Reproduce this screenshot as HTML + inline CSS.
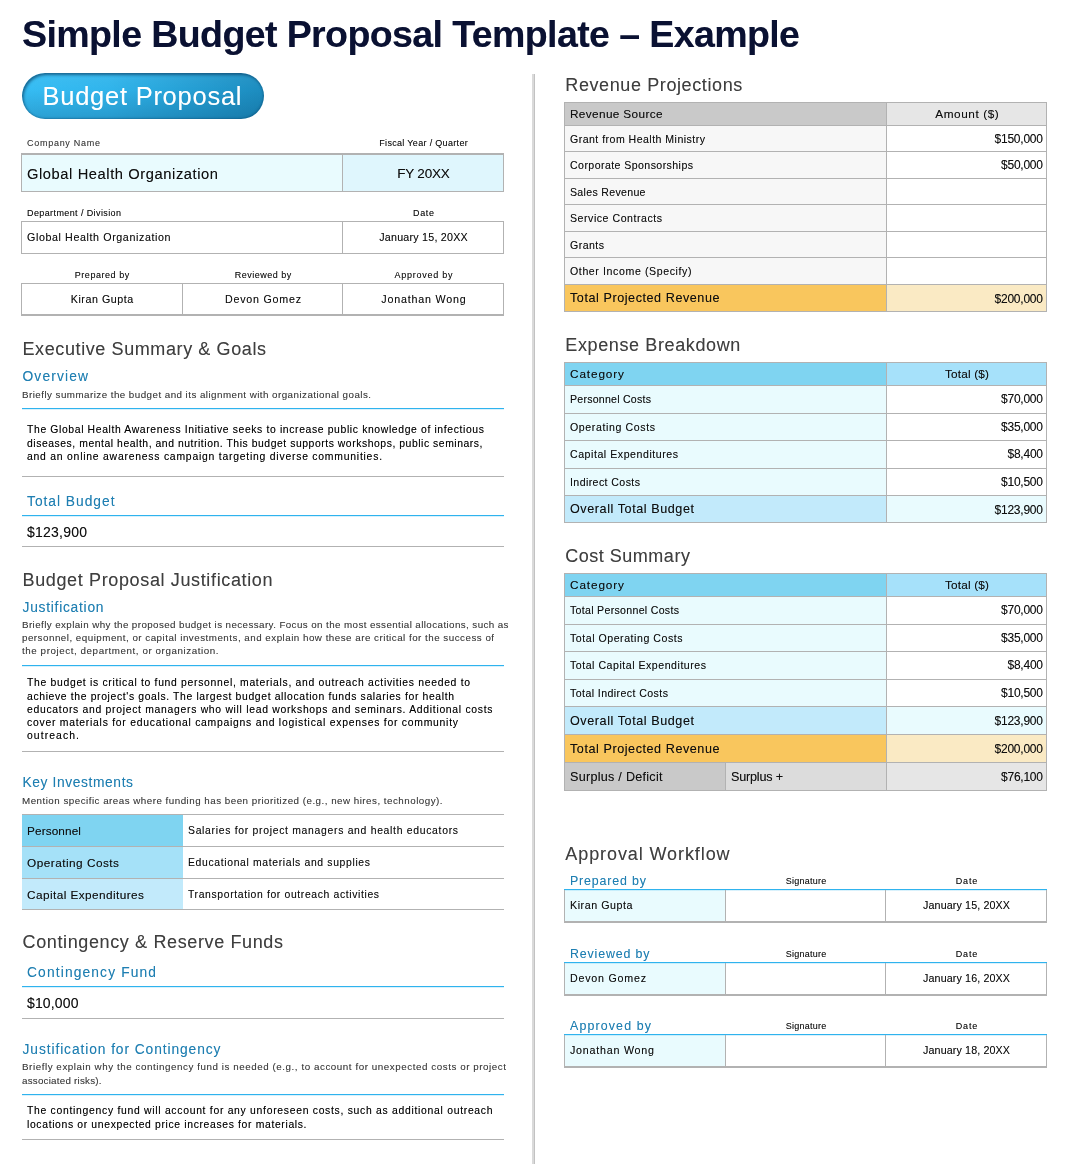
<!DOCTYPE html>
<html lang="en">
<head>
<meta charset="utf-8">
<title>Simple Budget Proposal Template – Example</title>
<style>
html,body{margin:0;padding:0;background:#fff;}
html,body{width:1068px;height:1164px;overflow:hidden;}
.page{width:1068px;height:1164px;position:relative;overflow:hidden;font-family:"Liberation Sans",sans-serif;}
.r{position:absolute;}
h1,h2,h3,p{margin:0;font-weight:normal;}
.t{position:absolute;white-space:nowrap;height:24px;line-height:24px;text-shadow:0 0 .5px color-mix(in srgb,currentColor 40%,transparent);}
</style>
</head>
<body>
<main class="page">
<h1 class="t" style="top:22.0px;font-size:37.6px;color:#0a1132;font-weight:bold;letter-spacing:-0.632px;left:22px;">Simple Budget Proposal Template – Example</h1>
<div class="r" style="left:532px;top:74px;width:2px;height:1090px;background:#dadada;"></div>
<div class="r" style="left:534px;top:74px;width:1px;height:1090px;background:#c2c2c2;"></div>
<div class="r" style="left:22px;top:73px;width:242px;height:46px;background:linear-gradient(to bottom,rgba(255,255,255,.05) 0%,rgba(0,0,0,0) 35%,rgba(0,45,80,.2) 100%),linear-gradient(to right,#36bdf4 0%,#31b5ec 35%,#259fd4 70%,#1c8cbf 100%);border-radius:23px;box-shadow:inset 1.5px 2px 3px rgba(8,66,104,.7),inset -1px -1px 2px rgba(8,66,104,.35);"></div>
<div class="t" style="top:84.0px;font-size:25.5px;color:#ffffff;letter-spacing:0.746px;left:42.5px;">Budget Proposal</div>
<div class="t" style="top:131.0px;font-size:9px;color:#3c3c3c;letter-spacing:0.724px;left:27px;">Company Name</div>
<div class="t" style="top:131.0px;font-size:9px;color:#0f0f0f;letter-spacing:0.323px;left:223.66px;width:400px;text-align:center;">Fiscal Year / Quarter</div>
<div class="r" style="left:21px;top:153px;width:321px;height:39px;background:#e9fbfe;"></div>
<div class="r" style="left:342px;top:153px;width:162px;height:39px;background:#dff6fd;"></div>
<div class="r" style="left:21px;top:153px;width:483px;height:2px;background:#b2b2b2;"></div>
<div class="r" style="left:21px;top:191px;width:483px;height:1px;background:#b2b2b2;"></div>
<div class="r" style="left:21px;top:153px;width:1px;height:39px;background:#b2b2b2;"></div>
<div class="r" style="left:503px;top:153px;width:1px;height:39px;background:#b2b2b2;"></div>
<div class="r" style="left:342px;top:153px;width:1px;height:39px;background:#b2b2b2;"></div>
<div class="t" style="top:162.0px;font-size:14.7px;color:#0f0f0f;letter-spacing:0.586px;left:27px;">Global Health Organization</div>
<div class="t" style="top:162.0px;font-size:13.5px;color:#0f0f0f;letter-spacing:-0.216px;left:223.39px;width:400px;text-align:center;">FY 20XX</div>
<div class="t" style="top:201.0px;font-size:9px;color:#0f0f0f;letter-spacing:0.398px;left:27px;">Department / Division</div>
<div class="t" style="top:201.0px;font-size:9px;color:#0f0f0f;letter-spacing:0.661px;left:223.83px;width:400px;text-align:center;">Date</div>
<div class="r" style="left:21px;top:221px;width:483px;height:1px;background:#b2b2b2;"></div>
<div class="r" style="left:21px;top:253px;width:483px;height:1px;background:#b2b2b2;"></div>
<div class="r" style="left:21px;top:221px;width:1px;height:33px;background:#b2b2b2;"></div>
<div class="r" style="left:503px;top:221px;width:1px;height:33px;background:#b2b2b2;"></div>
<div class="r" style="left:342px;top:221px;width:1px;height:33px;background:#b2b2b2;"></div>
<div class="t" style="top:225.0px;font-size:10.7px;color:#0f0f0f;letter-spacing:0.607px;left:27px;">Global Health Organization</div>
<div class="t" style="top:225.0px;font-size:10.7px;color:#0f0f0f;letter-spacing:0.235px;left:223.62px;width:400px;text-align:center;">January 15, 20XX</div>
<div class="t" style="top:263.0px;font-size:9px;color:#0f0f0f;letter-spacing:0.547px;left:-97.73px;width:400px;text-align:center;">Prepared by</div>
<div class="t" style="top:263.0px;font-size:9px;color:#0f0f0f;letter-spacing:0.497px;left:63.25px;width:400px;text-align:center;">Reviewed by</div>
<div class="t" style="top:263.0px;font-size:9px;color:#0f0f0f;letter-spacing:0.745px;left:223.87px;width:400px;text-align:center;">Approved by</div>
<div class="r" style="left:21px;top:283px;width:483px;height:1px;background:#b2b2b2;"></div>
<div class="r" style="left:21px;top:314px;width:483px;height:2px;background:#b2b2b2;"></div>
<div class="r" style="left:21px;top:283px;width:1px;height:33px;background:#b2b2b2;"></div>
<div class="r" style="left:503px;top:283px;width:1px;height:33px;background:#b2b2b2;"></div>
<div class="r" style="left:182px;top:283px;width:1px;height:32px;background:#b2b2b2;"></div>
<div class="r" style="left:342px;top:283px;width:1px;height:32px;background:#b2b2b2;"></div>
<div class="t" style="top:287.0px;font-size:10.7px;color:#0f0f0f;letter-spacing:0.545px;left:-97.73px;width:400px;text-align:center;">Kiran Gupta</div>
<div class="t" style="top:287.0px;font-size:10.7px;color:#0f0f0f;letter-spacing:0.769px;left:63.38px;width:400px;text-align:center;">Devon Gomez</div>
<div class="t" style="top:287.0px;font-size:10.7px;color:#0f0f0f;letter-spacing:0.819px;left:223.91px;width:400px;text-align:center;">Jonathan Wong</div>
<h2 class="t" style="top:337.0px;font-size:18px;color:#3f3f3f;letter-spacing:0.601px;left:22.5px;">Executive Summary &amp; Goals</h2>
<h3 class="t" style="top:365.0px;font-size:13.8px;color:#1f7fb2;letter-spacing:1.143px;left:22.5px;">Overview</h3>
<p class="t" style="top:383.0px;font-size:9.8px;color:#3c3c3c;letter-spacing:0.453px;left:22px;">Briefly summarize the budget and its alignment with organizational goals.</p>
<div class="r" style="left:22px;top:408px;width:482px;height:2px;background:linear-gradient(#2fb3ee 50%,rgba(47,179,238,.18) 50%);"></div>
<p class="t" style="top:418.0px;font-size:10.4px;color:#000;letter-spacing:0.628px;left:27px;">The Global Health Awareness Initiative seeks to increase public knowledge of infectious</p>
<p class="t" style="top:432.0px;font-size:10.4px;color:#000;letter-spacing:0.544px;left:27px;">diseases, mental health, and nutrition. This budget supports workshops, public seminars,</p>
<p class="t" style="top:445.0px;font-size:10.4px;color:#000;letter-spacing:0.770px;left:27px;">and an online awareness campaign targeting diverse communities.</p>
<div class="r" style="left:22px;top:476px;width:482px;height:1px;background:#b2b2b2;"></div>
<h3 class="t" style="top:490.0px;font-size:13.8px;color:#1f7fb2;letter-spacing:0.980px;left:27px;">Total Budget</h3>
<div class="r" style="left:22px;top:515px;width:482px;height:2px;background:linear-gradient(#2fb3ee 50%,rgba(47,179,238,.18) 50%);"></div>
<div class="t" style="top:520.0px;font-size:14px;color:#0f0f0f;letter-spacing:0.228px;left:27px;">$123,900</div>
<div class="r" style="left:22px;top:546px;width:482px;height:1px;background:#b2b2b2;"></div>
<h2 class="t" style="top:568.0px;font-size:18px;color:#3f3f3f;letter-spacing:0.638px;left:22.5px;">Budget Proposal Justification</h2>
<h3 class="t" style="top:596.0px;font-size:13.8px;color:#1f7fb2;letter-spacing:0.742px;left:22.5px;">Justification</h3>
<p class="t" style="top:613.0px;font-size:9.8px;color:#3c3c3c;letter-spacing:0.403px;left:22px;">Briefly explain why the proposed budget is necessary. Focus on the most essential allocations, such as</p>
<p class="t" style="top:626.0px;font-size:9.8px;color:#3c3c3c;letter-spacing:0.488px;left:22px;">personnel, equipment, or capital investments, and explain how these are critical for the success of</p>
<p class="t" style="top:639.0px;font-size:9.8px;color:#3c3c3c;letter-spacing:0.569px;left:22px;">the project, department, or organization.</p>
<div class="r" style="left:22px;top:665px;width:482px;height:2px;background:linear-gradient(#2fb3ee 50%,rgba(47,179,238,.18) 50%);"></div>
<p class="t" style="top:671.0px;font-size:10.4px;color:#000;letter-spacing:0.686px;left:27px;">The budget is critical to fund personnel, materials, and outreach activities needed to</p>
<p class="t" style="top:685.0px;font-size:10.4px;color:#000;letter-spacing:0.634px;left:27px;">achieve the project&#x27;s goals. The largest budget allocation funds salaries for health</p>
<p class="t" style="top:698.0px;font-size:10.4px;color:#000;letter-spacing:0.701px;left:27px;">educators and project managers who will lead workshops and seminars. Additional costs</p>
<p class="t" style="top:711.0px;font-size:10.4px;color:#000;letter-spacing:0.742px;left:27px;">cover materials for educational campaigns and logistical expenses for community</p>
<p class="t" style="top:724.0px;font-size:10.4px;color:#000;letter-spacing:1.084px;left:27px;">outreach.</p>
<div class="r" style="left:22px;top:751px;width:482px;height:1px;background:#b2b2b2;"></div>
<h3 class="t" style="top:771.0px;font-size:13.8px;color:#1f7fb2;letter-spacing:0.607px;left:22.5px;">Key Investments</h3>
<p class="t" style="top:789.0px;font-size:9.8px;color:#3c3c3c;letter-spacing:0.483px;left:22px;">Mention specific areas where funding has been prioritized (e.g., new hires, technology).</p>
<div class="r" style="left:22px;top:815px;width:161px;height:31px;background:#7fd4f1;"></div>
<div class="r" style="left:22px;top:847px;width:161px;height:31px;background:#a5e1f8;"></div>
<div class="r" style="left:22px;top:879px;width:161px;height:30px;background:#c2eafb;"></div>
<div class="r" style="left:22px;top:814px;width:482px;height:1px;background:#b2b2b2;"></div>
<div class="r" style="left:22px;top:846px;width:482px;height:1px;background:#b2b2b2;"></div>
<div class="r" style="left:22px;top:878px;width:482px;height:1px;background:#b2b2b2;"></div>
<div class="r" style="left:22px;top:909px;width:482px;height:1px;background:#b2b2b2;"></div>
<div class="t" style="top:819.0px;font-size:11.8px;color:#0f0f0f;letter-spacing:0.109px;left:27px;">Personnel</div>
<div class="t" style="top:851.0px;font-size:11.8px;color:#0f0f0f;letter-spacing:0.482px;left:27px;">Operating Costs</div>
<div class="t" style="top:883.0px;font-size:11.8px;color:#0f0f0f;letter-spacing:0.428px;left:27px;">Capital Expenditures</div>
<div class="t" style="top:819.0px;font-size:10.4px;color:#0f0f0f;letter-spacing:0.701px;left:188px;">Salaries for project managers and health educators</div>
<div class="t" style="top:851.0px;font-size:10.4px;color:#0f0f0f;letter-spacing:0.649px;left:188px;">Educational materials and supplies</div>
<div class="t" style="top:883.0px;font-size:10.4px;color:#0f0f0f;letter-spacing:0.630px;left:188px;">Transportation for outreach activities</div>
<h2 class="t" style="top:930.0px;font-size:18px;color:#3f3f3f;letter-spacing:0.630px;left:22.5px;">Contingency &amp; Reserve Funds</h2>
<h3 class="t" style="top:961.0px;font-size:13.8px;color:#1f7fb2;letter-spacing:1.134px;left:27px;">Contingency Fund</h3>
<div class="r" style="left:22px;top:986px;width:482px;height:2px;background:linear-gradient(#2fb3ee 50%,rgba(47,179,238,.18) 50%);"></div>
<div class="t" style="top:991.0px;font-size:14px;color:#0f0f0f;letter-spacing:0.148px;left:27px;">$10,000</div>
<div class="r" style="left:22px;top:1018px;width:482px;height:1px;background:#b2b2b2;"></div>
<h3 class="t" style="top:1038.0px;font-size:13.8px;color:#1f7fb2;letter-spacing:0.908px;left:22.5px;">Justification for Contingency</h3>
<p class="t" style="top:1055.0px;font-size:9.8px;color:#3c3c3c;letter-spacing:0.554px;left:22px;">Briefly explain why the contingency fund is needed (e.g., to account for unexpected costs or project</p>
<p class="t" style="top:1069.0px;font-size:9.8px;color:#3c3c3c;letter-spacing:0.224px;left:22px;">associated risks).</p>
<div class="r" style="left:22px;top:1094px;width:482px;height:2px;background:linear-gradient(#2fb3ee 50%,rgba(47,179,238,.18) 50%);"></div>
<p class="t" style="top:1099.0px;font-size:10.4px;color:#000;letter-spacing:0.705px;left:27px;">The contingency fund will account for any unforeseen costs, such as additional outreach</p>
<p class="t" style="top:1113.0px;font-size:10.4px;color:#000;letter-spacing:0.642px;left:27px;">locations or unexpected price increases for materials.</p>
<div class="r" style="left:22px;top:1139px;width:482px;height:1px;background:#b2b2b2;"></div>
<h2 class="t" style="top:73.0px;font-size:18px;color:#3f3f3f;letter-spacing:0.605px;left:565.3px;">Revenue Projections</h2>
<div class="r" style="left:564px;top:102px;width:322px;height:23px;background:#c9c9c9;"></div>
<div class="r" style="left:886px;top:102px;width:161px;height:23px;background:#e6e6e6;"></div>
<div class="r" style="left:564px;top:125px;width:322px;height:26px;background:#f7f7f7;"></div>
<div class="r" style="left:886px;top:125px;width:161px;height:26px;background:#ffffff;"></div>
<div class="r" style="left:564px;top:151px;width:322px;height:27px;background:#f7f7f7;"></div>
<div class="r" style="left:886px;top:151px;width:161px;height:27px;background:#ffffff;"></div>
<div class="r" style="left:564px;top:178px;width:322px;height:26px;background:#f7f7f7;"></div>
<div class="r" style="left:886px;top:178px;width:161px;height:26px;background:#ffffff;"></div>
<div class="r" style="left:564px;top:204px;width:322px;height:27px;background:#f7f7f7;"></div>
<div class="r" style="left:886px;top:204px;width:161px;height:27px;background:#ffffff;"></div>
<div class="r" style="left:564px;top:231px;width:322px;height:26px;background:#f7f7f7;"></div>
<div class="r" style="left:886px;top:231px;width:161px;height:26px;background:#ffffff;"></div>
<div class="r" style="left:564px;top:257px;width:322px;height:27px;background:#f7f7f7;"></div>
<div class="r" style="left:886px;top:257px;width:161px;height:27px;background:#ffffff;"></div>
<div class="r" style="left:564px;top:284px;width:322px;height:27px;background:#f9c65d;"></div>
<div class="r" style="left:886px;top:284px;width:161px;height:27px;background:#faeac4;"></div>
<div class="r" style="left:564px;top:102px;width:483px;height:1px;background:#b2b2b2;"></div>
<div class="r" style="left:564px;top:125px;width:483px;height:1px;background:#b2b2b2;"></div>
<div class="r" style="left:564px;top:151px;width:483px;height:1px;background:#b2b2b2;"></div>
<div class="r" style="left:564px;top:178px;width:483px;height:1px;background:#b2b2b2;"></div>
<div class="r" style="left:564px;top:204px;width:483px;height:1px;background:#b2b2b2;"></div>
<div class="r" style="left:564px;top:231px;width:483px;height:1px;background:#b2b2b2;"></div>
<div class="r" style="left:564px;top:257px;width:483px;height:1px;background:#b2b2b2;"></div>
<div class="r" style="left:564px;top:284px;width:483px;height:1px;background:#b2b2b2;"></div>
<div class="r" style="left:564px;top:311px;width:483px;height:1px;background:#b2b2b2;"></div>
<div class="r" style="left:564px;top:102px;width:1px;height:210px;background:#b2b2b2;"></div>
<div class="r" style="left:886px;top:102px;width:1px;height:210px;background:#b2b2b2;"></div>
<div class="r" style="left:1046px;top:102px;width:1px;height:210px;background:#b2b2b2;"></div>
<div class="t" style="top:102.0px;font-size:11.8px;color:#0f0f0f;letter-spacing:0.355px;left:570px;">Revenue Source</div>
<div class="t" style="top:102.0px;font-size:11.8px;color:#0f0f0f;letter-spacing:0.571px;left:767.29px;width:400px;text-align:center;">Amount ($)</div>
<div class="t" style="top:127.0px;font-size:10.6px;color:#0f0f0f;letter-spacing:0.455px;left:570px;">Grant from Health Ministry</div>
<div class="t" style="top:127.0px;font-size:12px;color:#0f0f0f;letter-spacing:-0.223px;left:642.78px;width:400px;text-align:right;">$150,000</div>
<div class="t" style="top:153.0px;font-size:10.6px;color:#0f0f0f;letter-spacing:0.417px;left:570px;">Corporate Sponsorships</div>
<div class="t" style="top:153.0px;font-size:12px;color:#0f0f0f;letter-spacing:-0.232px;left:642.77px;width:400px;text-align:right;">$50,000</div>
<div class="t" style="top:180.0px;font-size:10.6px;color:#0f0f0f;letter-spacing:0.303px;left:570px;">Sales Revenue</div>
<div class="t" style="top:206.0px;font-size:10.6px;color:#0f0f0f;letter-spacing:0.524px;left:570px;">Service Contracts</div>
<div class="t" style="top:233.0px;font-size:10.6px;color:#0f0f0f;letter-spacing:0.441px;left:570px;">Grants</div>
<div class="t" style="top:259.0px;font-size:10.6px;color:#0f0f0f;letter-spacing:0.599px;left:570px;">Other Income (Specify)</div>
<div class="t" style="top:286.0px;font-size:12.6px;color:#0f0f0f;letter-spacing:0.558px;left:570px;">Total Projected Revenue</div>
<div class="t" style="top:287.0px;font-size:12px;color:#0f0f0f;letter-spacing:-0.223px;left:642.78px;width:400px;text-align:right;">$200,000</div>
<h2 class="t" style="top:333.0px;font-size:18px;color:#3f3f3f;letter-spacing:0.618px;left:565.3px;">Expense Breakdown</h2>
<div class="r" style="left:564px;top:362px;width:322px;height:23px;background:#7fd4f1;"></div>
<div class="r" style="left:886px;top:362px;width:161px;height:23px;background:#a6e1fa;"></div>
<div class="r" style="left:564px;top:385px;width:322px;height:28px;background:#e9fbfe;"></div>
<div class="r" style="left:886px;top:385px;width:161px;height:28px;background:#ffffff;"></div>
<div class="r" style="left:564px;top:413px;width:322px;height:27px;background:#e9fbfe;"></div>
<div class="r" style="left:886px;top:413px;width:161px;height:27px;background:#ffffff;"></div>
<div class="r" style="left:564px;top:440px;width:322px;height:28px;background:#e9fbfe;"></div>
<div class="r" style="left:886px;top:440px;width:161px;height:28px;background:#ffffff;"></div>
<div class="r" style="left:564px;top:468px;width:322px;height:27px;background:#e9fbfe;"></div>
<div class="r" style="left:886px;top:468px;width:161px;height:27px;background:#ffffff;"></div>
<div class="r" style="left:564px;top:495px;width:322px;height:27px;background:#c2eafb;"></div>
<div class="r" style="left:886px;top:495px;width:161px;height:27px;background:#e9fbfe;"></div>
<div class="r" style="left:564px;top:362px;width:483px;height:1px;background:#b2b2b2;"></div>
<div class="r" style="left:564px;top:385px;width:483px;height:1px;background:#b2b2b2;"></div>
<div class="r" style="left:564px;top:413px;width:483px;height:1px;background:#b2b2b2;"></div>
<div class="r" style="left:564px;top:440px;width:483px;height:1px;background:#b2b2b2;"></div>
<div class="r" style="left:564px;top:468px;width:483px;height:1px;background:#b2b2b2;"></div>
<div class="r" style="left:564px;top:495px;width:483px;height:1px;background:#b2b2b2;"></div>
<div class="r" style="left:564px;top:522px;width:483px;height:1px;background:#b2b2b2;"></div>
<div class="r" style="left:564px;top:362px;width:1px;height:161px;background:#b2b2b2;"></div>
<div class="r" style="left:886px;top:362px;width:1px;height:161px;background:#b2b2b2;"></div>
<div class="r" style="left:1046px;top:362px;width:1px;height:161px;background:#b2b2b2;"></div>
<div class="t" style="top:362.0px;font-size:11.8px;color:#0f0f0f;letter-spacing:0.875px;left:570px;">Category</div>
<div class="t" style="top:362.0px;font-size:11.8px;color:#0f0f0f;letter-spacing:0.172px;left:767.09px;width:400px;text-align:center;">Total ($)</div>
<div class="t" style="top:387.0px;font-size:10.6px;color:#0f0f0f;letter-spacing:0.233px;left:570px;">Personnel Costs</div>
<div class="t" style="top:387.0px;font-size:12px;color:#0f0f0f;letter-spacing:-0.232px;left:642.77px;width:400px;text-align:right;">$70,000</div>
<div class="t" style="top:415.0px;font-size:10.6px;color:#0f0f0f;letter-spacing:0.604px;left:570px;">Operating Costs</div>
<div class="t" style="top:415.0px;font-size:12px;color:#0f0f0f;letter-spacing:-0.232px;left:642.77px;width:400px;text-align:right;">$35,000</div>
<div class="t" style="top:442.0px;font-size:10.6px;color:#0f0f0f;letter-spacing:0.539px;left:570px;">Capital Expenditures</div>
<div class="t" style="top:442.0px;font-size:12px;color:#0f0f0f;letter-spacing:-0.241px;left:642.76px;width:400px;text-align:right;">$8,400</div>
<div class="t" style="top:470.0px;font-size:10.6px;color:#0f0f0f;letter-spacing:0.403px;left:570px;">Indirect Costs</div>
<div class="t" style="top:470.0px;font-size:12px;color:#0f0f0f;letter-spacing:-0.232px;left:642.77px;width:400px;text-align:right;">$10,500</div>
<div class="t" style="top:497.0px;font-size:12.6px;color:#0f0f0f;letter-spacing:0.569px;left:570px;">Overall Total Budget</div>
<div class="t" style="top:498.0px;font-size:12px;color:#0f0f0f;letter-spacing:-0.223px;left:642.78px;width:400px;text-align:right;">$123,900</div>
<h2 class="t" style="top:544.0px;font-size:18px;color:#3f3f3f;letter-spacing:0.506px;left:565.3px;">Cost Summary</h2>
<div class="r" style="left:564px;top:573px;width:322px;height:23px;background:#7fd4f1;"></div>
<div class="r" style="left:886px;top:573px;width:161px;height:23px;background:#a6e1fa;"></div>
<div class="r" style="left:564px;top:596px;width:322px;height:28px;background:#e9fbfe;"></div>
<div class="r" style="left:886px;top:596px;width:161px;height:28px;background:#ffffff;"></div>
<div class="r" style="left:564px;top:624px;width:322px;height:27px;background:#e9fbfe;"></div>
<div class="r" style="left:886px;top:624px;width:161px;height:27px;background:#ffffff;"></div>
<div class="r" style="left:564px;top:651px;width:322px;height:28px;background:#e9fbfe;"></div>
<div class="r" style="left:886px;top:651px;width:161px;height:28px;background:#ffffff;"></div>
<div class="r" style="left:564px;top:679px;width:322px;height:27px;background:#e9fbfe;"></div>
<div class="r" style="left:886px;top:679px;width:161px;height:27px;background:#ffffff;"></div>
<div class="r" style="left:564px;top:706px;width:322px;height:28px;background:#c2eafb;"></div>
<div class="r" style="left:886px;top:706px;width:161px;height:28px;background:#e9fbfe;"></div>
<div class="r" style="left:564px;top:734px;width:322px;height:28px;background:#f9c65d;"></div>
<div class="r" style="left:886px;top:734px;width:161px;height:28px;background:#faeac4;"></div>
<div class="r" style="left:564px;top:762px;width:161px;height:28px;background:#c9c9c9;"></div>
<div class="r" style="left:725px;top:762px;width:161px;height:28px;background:#dcdcdc;"></div>
<div class="r" style="left:725px;top:762px;width:1px;height:28px;background:#b2b2b2;"></div>
<div class="r" style="left:886px;top:762px;width:161px;height:28px;background:#e6e6e6;"></div>
<div class="r" style="left:564px;top:573px;width:483px;height:1px;background:#b2b2b2;"></div>
<div class="r" style="left:564px;top:596px;width:483px;height:1px;background:#b2b2b2;"></div>
<div class="r" style="left:564px;top:624px;width:483px;height:1px;background:#b2b2b2;"></div>
<div class="r" style="left:564px;top:651px;width:483px;height:1px;background:#b2b2b2;"></div>
<div class="r" style="left:564px;top:679px;width:483px;height:1px;background:#b2b2b2;"></div>
<div class="r" style="left:564px;top:706px;width:483px;height:1px;background:#b2b2b2;"></div>
<div class="r" style="left:564px;top:734px;width:483px;height:1px;background:#b2b2b2;"></div>
<div class="r" style="left:564px;top:762px;width:483px;height:1px;background:#b2b2b2;"></div>
<div class="r" style="left:564px;top:790px;width:483px;height:1px;background:#b2b2b2;"></div>
<div class="r" style="left:564px;top:573px;width:1px;height:218px;background:#b2b2b2;"></div>
<div class="r" style="left:886px;top:573px;width:1px;height:218px;background:#b2b2b2;"></div>
<div class="r" style="left:1046px;top:573px;width:1px;height:218px;background:#b2b2b2;"></div>
<div class="t" style="top:573.0px;font-size:11.8px;color:#0f0f0f;letter-spacing:0.875px;left:570px;">Category</div>
<div class="t" style="top:573.0px;font-size:11.8px;color:#0f0f0f;letter-spacing:0.172px;left:767.09px;width:400px;text-align:center;">Total ($)</div>
<div class="t" style="top:598.0px;font-size:10.6px;color:#0f0f0f;letter-spacing:0.298px;left:570px;">Total Personnel Costs</div>
<div class="t" style="top:598.0px;font-size:12px;color:#0f0f0f;letter-spacing:-0.232px;left:642.77px;width:400px;text-align:right;">$70,000</div>
<div class="t" style="top:626.0px;font-size:10.6px;color:#0f0f0f;letter-spacing:0.531px;left:570px;">Total Operating Costs</div>
<div class="t" style="top:626.0px;font-size:12px;color:#0f0f0f;letter-spacing:-0.232px;left:642.77px;width:400px;text-align:right;">$35,000</div>
<div class="t" style="top:653.0px;font-size:10.6px;color:#0f0f0f;letter-spacing:0.517px;left:570px;">Total Capital Expenditures</div>
<div class="t" style="top:653.0px;font-size:12px;color:#0f0f0f;letter-spacing:-0.241px;left:642.76px;width:400px;text-align:right;">$8,400</div>
<div class="t" style="top:681.0px;font-size:10.6px;color:#0f0f0f;letter-spacing:0.416px;left:570px;">Total Indirect Costs</div>
<div class="t" style="top:681.0px;font-size:12px;color:#0f0f0f;letter-spacing:-0.232px;left:642.77px;width:400px;text-align:right;">$10,500</div>
<div class="t" style="top:709.0px;font-size:12.6px;color:#0f0f0f;letter-spacing:0.569px;left:570px;">Overall Total Budget</div>
<div class="t" style="top:709.0px;font-size:12px;color:#0f0f0f;letter-spacing:-0.223px;left:642.78px;width:400px;text-align:right;">$123,900</div>
<div class="t" style="top:737.0px;font-size:12.6px;color:#0f0f0f;letter-spacing:0.558px;left:570px;">Total Projected Revenue</div>
<div class="t" style="top:737.0px;font-size:12px;color:#0f0f0f;letter-spacing:-0.223px;left:642.78px;width:400px;text-align:right;">$200,000</div>
<div class="t" style="top:765.0px;font-size:12.6px;color:#0f0f0f;letter-spacing:0.270px;left:570px;">Surplus / Deficit</div>
<div class="t" style="top:765.0px;font-size:12.6px;color:#0f0f0f;letter-spacing:-0.195px;left:731px;">Surplus +</div>
<div class="t" style="top:765.0px;font-size:12px;color:#0f0f0f;letter-spacing:-0.232px;left:642.77px;width:400px;text-align:right;">$76,100</div>
<h2 class="t" style="top:842.0px;font-size:18px;color:#3f3f3f;letter-spacing:0.910px;left:565.3px;">Approval Workflow</h2>
<div class="t" style="top:869.0px;font-size:12.4px;color:#1f7fb2;letter-spacing:0.848px;left:570px;">Prepared by</div>
<div class="t" style="top:869.0px;font-size:9px;color:#0f0f0f;letter-spacing:0.246px;left:606.12px;width:400px;text-align:center;">Signature</div>
<div class="t" style="top:869.0px;font-size:9px;color:#0f0f0f;letter-spacing:0.828px;left:766.91px;width:400px;text-align:center;">Date</div>
<div class="r" style="left:564px;top:890px;width:161px;height:31px;background:#e9fbfe;"></div>
<div class="r" style="left:564px;top:889px;width:483px;height:2px;background:linear-gradient(#2fb3ee 50%,rgba(47,179,238,.18) 50%);"></div>
<div class="r" style="left:564px;top:921px;width:483px;height:2px;background:#b2b2b2;"></div>
<div class="r" style="left:564px;top:890px;width:1px;height:33px;background:#b2b2b2;"></div>
<div class="r" style="left:725px;top:890px;width:1px;height:31px;background:#b2b2b2;"></div>
<div class="r" style="left:885px;top:890px;width:1px;height:31px;background:#b2b2b2;"></div>
<div class="r" style="left:1046px;top:890px;width:1px;height:33px;background:#b2b2b2;"></div>
<div class="t" style="top:893.0px;font-size:10.7px;color:#0f0f0f;letter-spacing:0.545px;left:570px;">Kiran Gupta</div>
<div class="t" style="top:893.0px;font-size:10.7px;color:#0f0f0f;letter-spacing:0.135px;left:766.57px;width:400px;text-align:center;">January 15, 20XX</div>
<div class="t" style="top:942.0px;font-size:12.4px;color:#1f7fb2;letter-spacing:0.855px;left:570px;">Reviewed by</div>
<div class="t" style="top:942.0px;font-size:9px;color:#0f0f0f;letter-spacing:0.246px;left:606.12px;width:400px;text-align:center;">Signature</div>
<div class="t" style="top:942.0px;font-size:9px;color:#0f0f0f;letter-spacing:0.828px;left:766.91px;width:400px;text-align:center;">Date</div>
<div class="r" style="left:564px;top:963px;width:161px;height:31px;background:#e9fbfe;"></div>
<div class="r" style="left:564px;top:962px;width:483px;height:2px;background:linear-gradient(#2fb3ee 50%,rgba(47,179,238,.18) 50%);"></div>
<div class="r" style="left:564px;top:994px;width:483px;height:2px;background:#b2b2b2;"></div>
<div class="r" style="left:564px;top:963px;width:1px;height:33px;background:#b2b2b2;"></div>
<div class="r" style="left:725px;top:963px;width:1px;height:31px;background:#b2b2b2;"></div>
<div class="r" style="left:885px;top:963px;width:1px;height:31px;background:#b2b2b2;"></div>
<div class="r" style="left:1046px;top:963px;width:1px;height:33px;background:#b2b2b2;"></div>
<div class="t" style="top:966.0px;font-size:10.7px;color:#0f0f0f;letter-spacing:0.769px;left:570px;">Devon Gomez</div>
<div class="t" style="top:966.0px;font-size:10.7px;color:#0f0f0f;letter-spacing:0.135px;left:766.57px;width:400px;text-align:center;">January 16, 20XX</div>
<div class="t" style="top:1014.0px;font-size:12.4px;color:#1f7fb2;letter-spacing:1.142px;left:570px;">Approved by</div>
<div class="t" style="top:1014.0px;font-size:9px;color:#0f0f0f;letter-spacing:0.246px;left:606.12px;width:400px;text-align:center;">Signature</div>
<div class="t" style="top:1014.0px;font-size:9px;color:#0f0f0f;letter-spacing:0.828px;left:766.91px;width:400px;text-align:center;">Date</div>
<div class="r" style="left:564px;top:1035px;width:161px;height:31px;background:#e9fbfe;"></div>
<div class="r" style="left:564px;top:1034px;width:483px;height:2px;background:linear-gradient(#2fb3ee 50%,rgba(47,179,238,.18) 50%);"></div>
<div class="r" style="left:564px;top:1066px;width:483px;height:2px;background:#b2b2b2;"></div>
<div class="r" style="left:564px;top:1035px;width:1px;height:33px;background:#b2b2b2;"></div>
<div class="r" style="left:725px;top:1035px;width:1px;height:31px;background:#b2b2b2;"></div>
<div class="r" style="left:885px;top:1035px;width:1px;height:31px;background:#b2b2b2;"></div>
<div class="r" style="left:1046px;top:1035px;width:1px;height:33px;background:#b2b2b2;"></div>
<div class="t" style="top:1038.0px;font-size:10.7px;color:#0f0f0f;letter-spacing:0.777px;left:570px;">Jonathan Wong</div>
<div class="t" style="top:1038.0px;font-size:10.7px;color:#0f0f0f;letter-spacing:0.135px;left:766.57px;width:400px;text-align:center;">January 18, 20XX</div>
</main>
</body>
</html>
